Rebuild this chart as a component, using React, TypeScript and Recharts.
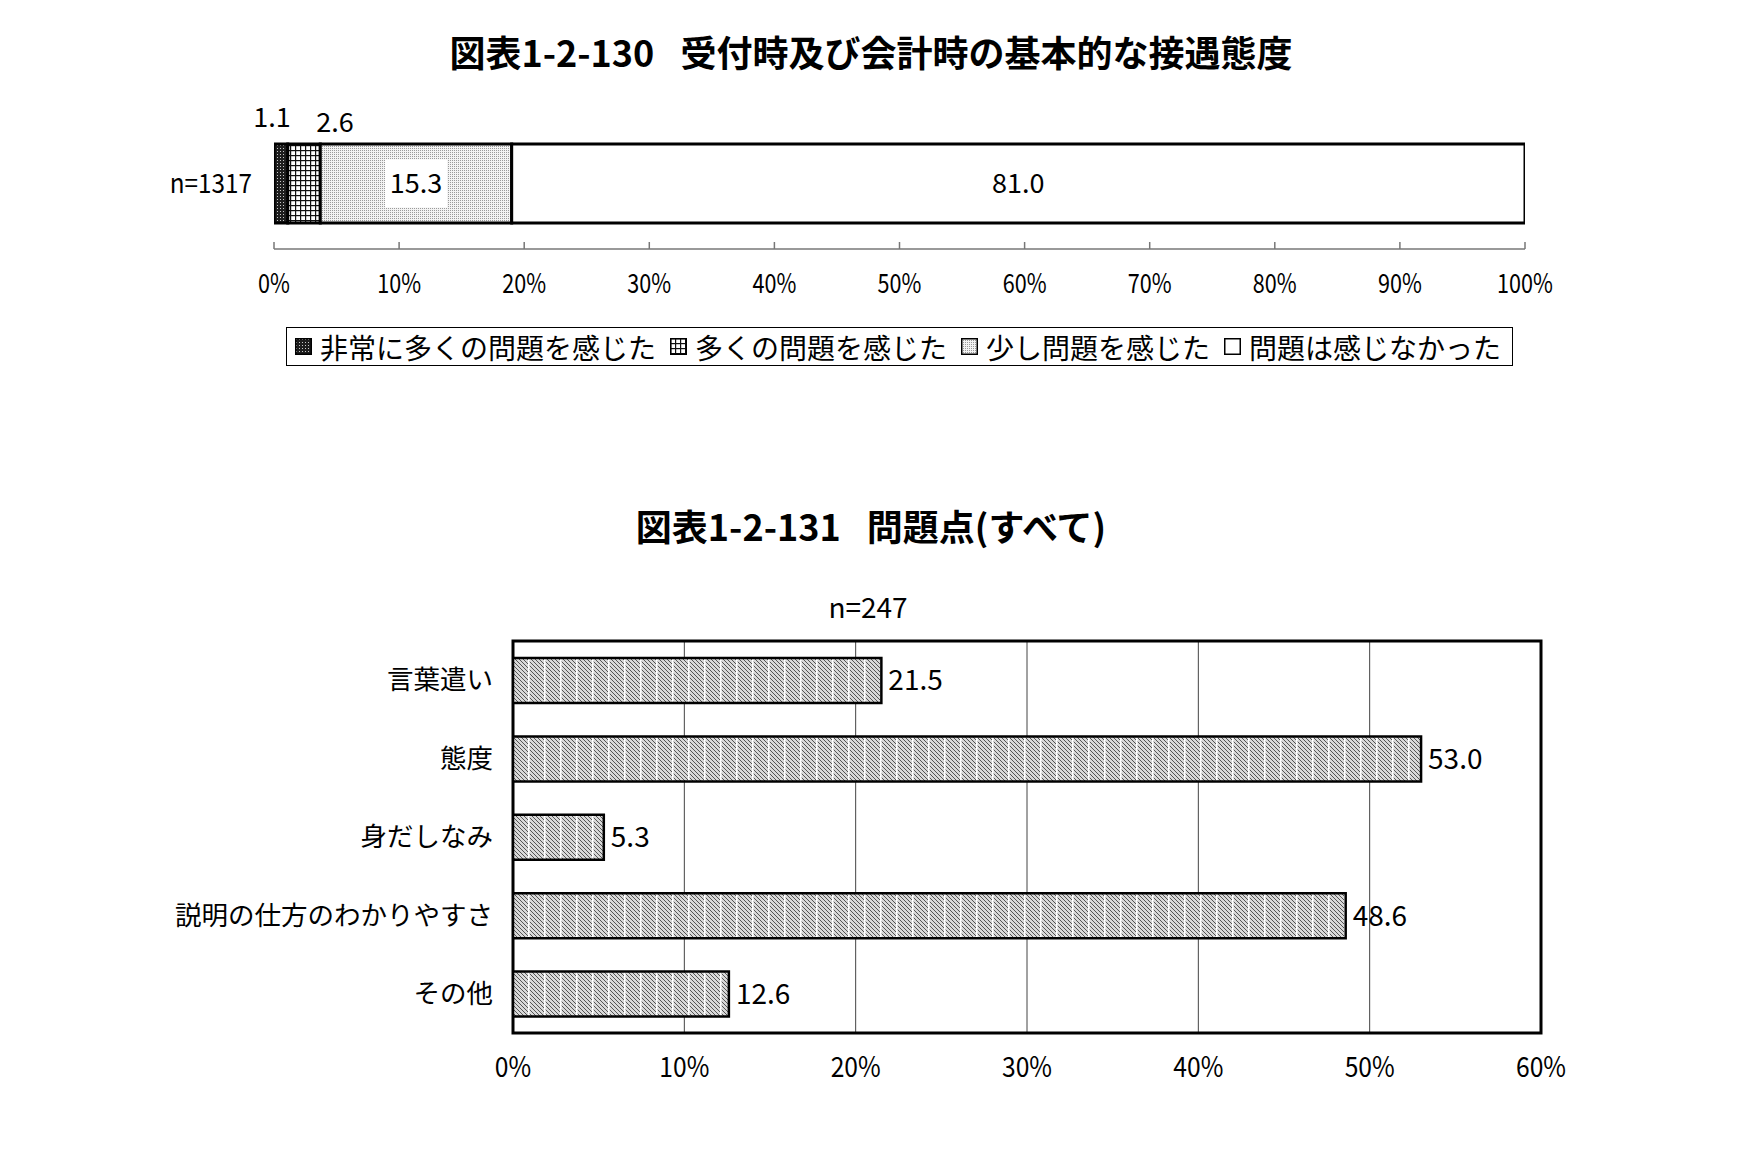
import React from 'react';
import { BarChart, Bar, XAxis, YAxis, CartesianGrid, LabelList, ReferenceArea } from 'recharts';

// ---------- data ----------
const topCategories = ['n=1317'];
const topSeriesNames = ['非常に多くの問題を感じた', '多くの問題を感じた', '少し問題を感じた', '問題は感じなかった'];
const topSeriesValues = [1.1, 2.6, 15.3, 81.0];
const topTicks = [0, 10, 20, 30, 40, 50, 60, 70, 80, 90, 100];

const bottomCategories = ['言葉遣い', '態度', '身だしなみ', '説明の仕方のわかりやすさ', 'その他'];
const bottomValues = [21.5, 53.0, 5.3, 48.6, 12.6];
const bottomTicks = [0, 10, 20, 30, 40, 50, 60];
const bottomN = 'n=247';

const topTitle = '図表1-2-130\u2002 受付時及び会計時の基本的な接遇態度';
const bottomTitle = '図表1-2-131\u2002 問題点(すべて)';

// ---------- styles ----------
const JP = "'Noto Sans CJK JP', 'Noto Sans', sans-serif";
const NUM = "'Noto Sans CJK JP', sans-serif";
const topFills = ['url(#pDark)', 'url(#pGrid)', 'url(#pDots)', '#ffffff'];
const topLabelMode = ['above', 'above', 'boxed', 'plain'];
const topLabelDx = [-9, 31, 0, 0];
const topLabelDy = [-26, -21, 0, 0];

const topData = topCategories.map((name) => {
  const row: any = { name };
  topSeriesValues.forEach((v, i) => {
    row['s' + i] = v;
  });
  return row;
});

const bottomData = bottomCategories.map((name, i) => ({ name, v: bottomValues[i] }));

const TOP_TICK_MARGIN = 35;
const BOTTOM_TICK_MARGIN = 34;

const NumText = (p: any) => {
  const { x, y, sx = 1, anchor = 'middle', size = 27, family = NUM, children } = p;
  return (
    <text
      transform={`translate(${x},${y}) scale(${sx},1)`}
      textAnchor={anchor}
      dy="0.35em"
      fontSize={size}
      fontFamily={family}
      fill="#000"
    >
      {children}
    </text>
  );
};

const TopXTick = (props: any) => {
  const { x, y, payload } = props;
  const axisY = y - TOP_TICK_MARGIN;
  return (
    <g>
      <line x1={x} x2={x} y1={axisY} y2={axisY - 7} stroke="#777" strokeWidth={1.5} />
      <NumText x={x} y={y} sx={0.8} size={27}>{payload.value}%</NumText>
    </g>
  );
};

const TopYTick = (props: any) => {
  const { x, y, payload } = props;
  return <NumText x={x} y={y} sx={0.9} anchor="end" size={27}>{payload.value}</NumText>;
};

const BottomXTick = (props: any) => {
  const { x, y, payload } = props;
  return <NumText x={x} y={y} sx={0.88} size={28}>{payload.value}%</NumText>;
};

const BottomYTick = (props: any) => {
  const { x, y, payload } = props;
  return <NumText x={x} y={y} anchor="end" size={26.5} family={JP}>{payload.value}</NumText>;
};

const makeTopLabel = (si: number) => (props: any) => {
  const vb = props.viewBox && props.viewBox.width !== undefined ? props.viewBox : props;
  const { x, y, width, height } = vb;
  const value = Number(props.value);
  const text = value.toFixed(1);
  const cx = x + width / 2 + topLabelDx[si];
  const mode = topLabelMode[si];
  if (mode === 'above') {
    return <NumText x={cx} y={y + topLabelDy[si]} size={27}>{text}</NumText>;
  }
  const cy = y + height / 2;
  return (
    <g>
      {mode === 'boxed' ? <rect x={cx - 31} y={cy - 24} width={62} height={48} fill="#fff" /> : null}
      <NumText x={cx} y={cy} size={27}>{text}</NumText>
    </g>
  );
};

const BottomValueLabel = (props: any) => {
  const vb = props.viewBox && props.viewBox.width !== undefined ? props.viewBox : props;
  const { x, y, width, height } = vb;
  return <NumText x={x + width + 7} y={y + height / 2} anchor="start" size={28}>{Number(props.value).toFixed(1)}</NumText>;
};

const PatternDefs = () => (
  <svg width={0} height={0} style={{ position: 'absolute', left: 0, top: 0 }}>
    <defs>
      <pattern id="pDark" width="3" height="3" patternUnits="userSpaceOnUse">
        <rect width="3" height="3" fill="#1e1e1e" />
        <rect x="1" y="1" width="1" height="1" fill="#c8c8c8" />
      </pattern>
      <pattern id="pGrid" width="5" height="5" patternUnits="userSpaceOnUse">
        <rect width="5" height="5" fill="#ffffff" />
        <rect width="5" height="1.2" fill="#111" />
        <rect width="1.2" height="5" fill="#111" />
      </pattern>
      <pattern id="pDots" width="2" height="2" patternUnits="userSpaceOnUse">
        <rect width="2" height="2" fill="#f3f3f3" />
        <rect width="1" height="1" fill="#9a9a9a" />
      </pattern>
      <pattern id="pHatch" width="16" height="16" patternUnits="userSpaceOnUse">
        <rect width="16" height="16" fill="#d8d8d8" />
        <path
          d="M-16,0L0,16M-12,0L4,16M-8,0L8,16M-4,0L12,16M0,0L16,16M4,0L20,16M8,0L24,16M12,0L28,16"
          stroke="#555"
          strokeWidth="1"
        />
        <rect x="0" width="1.6" height="16" fill="#ffffff" />
      </pattern>
    </defs>
  </svg>
);

export default function App() {
  return (
    <div style={{ position: 'absolute', left: 0, top: 0, width: 1742, height: 1162, background: '#fff', overflow: 'hidden' }}>
      <PatternDefs />

      {/* Top title */}
      <div
        style={{
          position: 'absolute', left: 0, top: 26, width: 1742, height: 50, lineHeight: '50px',
          textAlign: 'center', fontFamily: JP, fontSize: 36, fontWeight: 700, color: '#000', whiteSpace: 'pre',
        }}
      >
        {topTitle}
      </div>

      {/* Top chart */}
      <div style={{ position: 'absolute', left: 0, top: 0 }}>
        <BarChart
          width={1742}
          height={330}
          data={topData}
          layout="vertical"
          margin={{ top: 118, right: 217, bottom: 21, left: 0 }}
          barSize={79}
        >
          <XAxis
            type="number"
            domain={[0, 100]}
            ticks={topTicks}
            interval={0}
            height={60}
            axisLine={{ stroke: '#777', strokeWidth: 1.5 }}
            tickLine={false}
            tickSize={0}
            tickMargin={TOP_TICK_MARGIN}
            tick={<TopXTick />}
            allowDataOverflow
          />
          <YAxis
            type="category"
            dataKey="name"
            width={274}
            axisLine={false}
            tickLine={false}
            tickSize={0}
            tickMargin={22}
            tick={<TopYTick />}
          />
          {topSeriesValues.map((_, i) => (
            <Bar
              key={i}
              dataKey={'s' + i}
              name={topSeriesNames[i]}
              stackId="a"
              fill={topFills[i]}
              stroke="#000"
              strokeWidth={3}
              isAnimationActive={false}
            >
              <LabelList dataKey={'s' + i} content={makeTopLabel(i)} />
            </Bar>
          ))}
        </BarChart>
      </div>

      {/* Top legend */}
      <div
        style={{
          position: 'absolute', left: 286, top: 327, width: 1227, height: 39, border: '1.5px solid #000',
          boxSizing: 'border-box', display: 'flex', alignItems: 'center', paddingLeft: 8,
          fontFamily: JP, fontSize: 28, whiteSpace: 'nowrap', color: '#000',
        }}
      >
        {topSeriesNames.map((name, i) => (
          <span key={i} style={{ display: 'inline-flex', alignItems: 'center', marginRight: 14 }}>
            <svg width={17} height={17} style={{ marginRight: 8 }}>
              <rect x={0.75} y={0.75} width={15.5} height={15.5} fill={topFills[i]} stroke="#000" strokeWidth={1.5} />
            </svg>
            <span style={{ lineHeight: '36px' }}>{name}</span>
          </span>
        ))}
      </div>

      {/* Bottom title */}
      <div
        style={{
          position: 'absolute', left: 0, top: 500, width: 1742, height: 50, lineHeight: '50px',
          textAlign: 'center', fontFamily: JP, fontSize: 36, fontWeight: 700, color: '#000', whiteSpace: 'pre',
        }}
      >
        {bottomTitle}
      </div>

      {/* n=247 */}
      <div
        style={{
          position: 'absolute', left: 768, top: 588, width: 200, height: 36, lineHeight: '36px',
          textAlign: 'center', fontFamily: NUM, fontSize: 28, color: '#000',
        }}
      >
        {bottomN}
      </div>

      {/* Bottom chart */}
      <div style={{ position: 'absolute', left: 0, top: 560 }}>
        <BarChart
          width={1742}
          height={560}
          data={bottomData}
          layout="vertical"
          margin={{ top: 81, right: 201, bottom: 27, left: 0 }}
          barSize={45}
        >
          <CartesianGrid horizontal={false} vertical={true} stroke="#444" strokeWidth={1} />
          <XAxis
            type="number"
            domain={[0, 60]}
            ticks={bottomTicks}
            interval={0}
            height={60}
            axisLine={false}
            tickLine={false}
            tickSize={0}
            tickMargin={BOTTOM_TICK_MARGIN}
            tick={<BottomXTick />}
            allowDataOverflow
          />
          <YAxis
            type="category"
            dataKey="name"
            width={513}
            axisLine={false}
            tickLine={false}
            tickSize={0}
            tickMargin={20}
            tick={<BottomYTick />}
          />
          <Bar dataKey="v" fill="url(#pHatch)" stroke="#000" strokeWidth={2.5} isAnimationActive={false}>
            <LabelList dataKey="v" content={BottomValueLabel} />
          </Bar>
          <ReferenceArea x1={0} x2={60} fill="none" fillOpacity={0} stroke="#000" strokeWidth={3} ifOverflow="visible" />
        </BarChart>
      </div>
    </div>
  );
}
